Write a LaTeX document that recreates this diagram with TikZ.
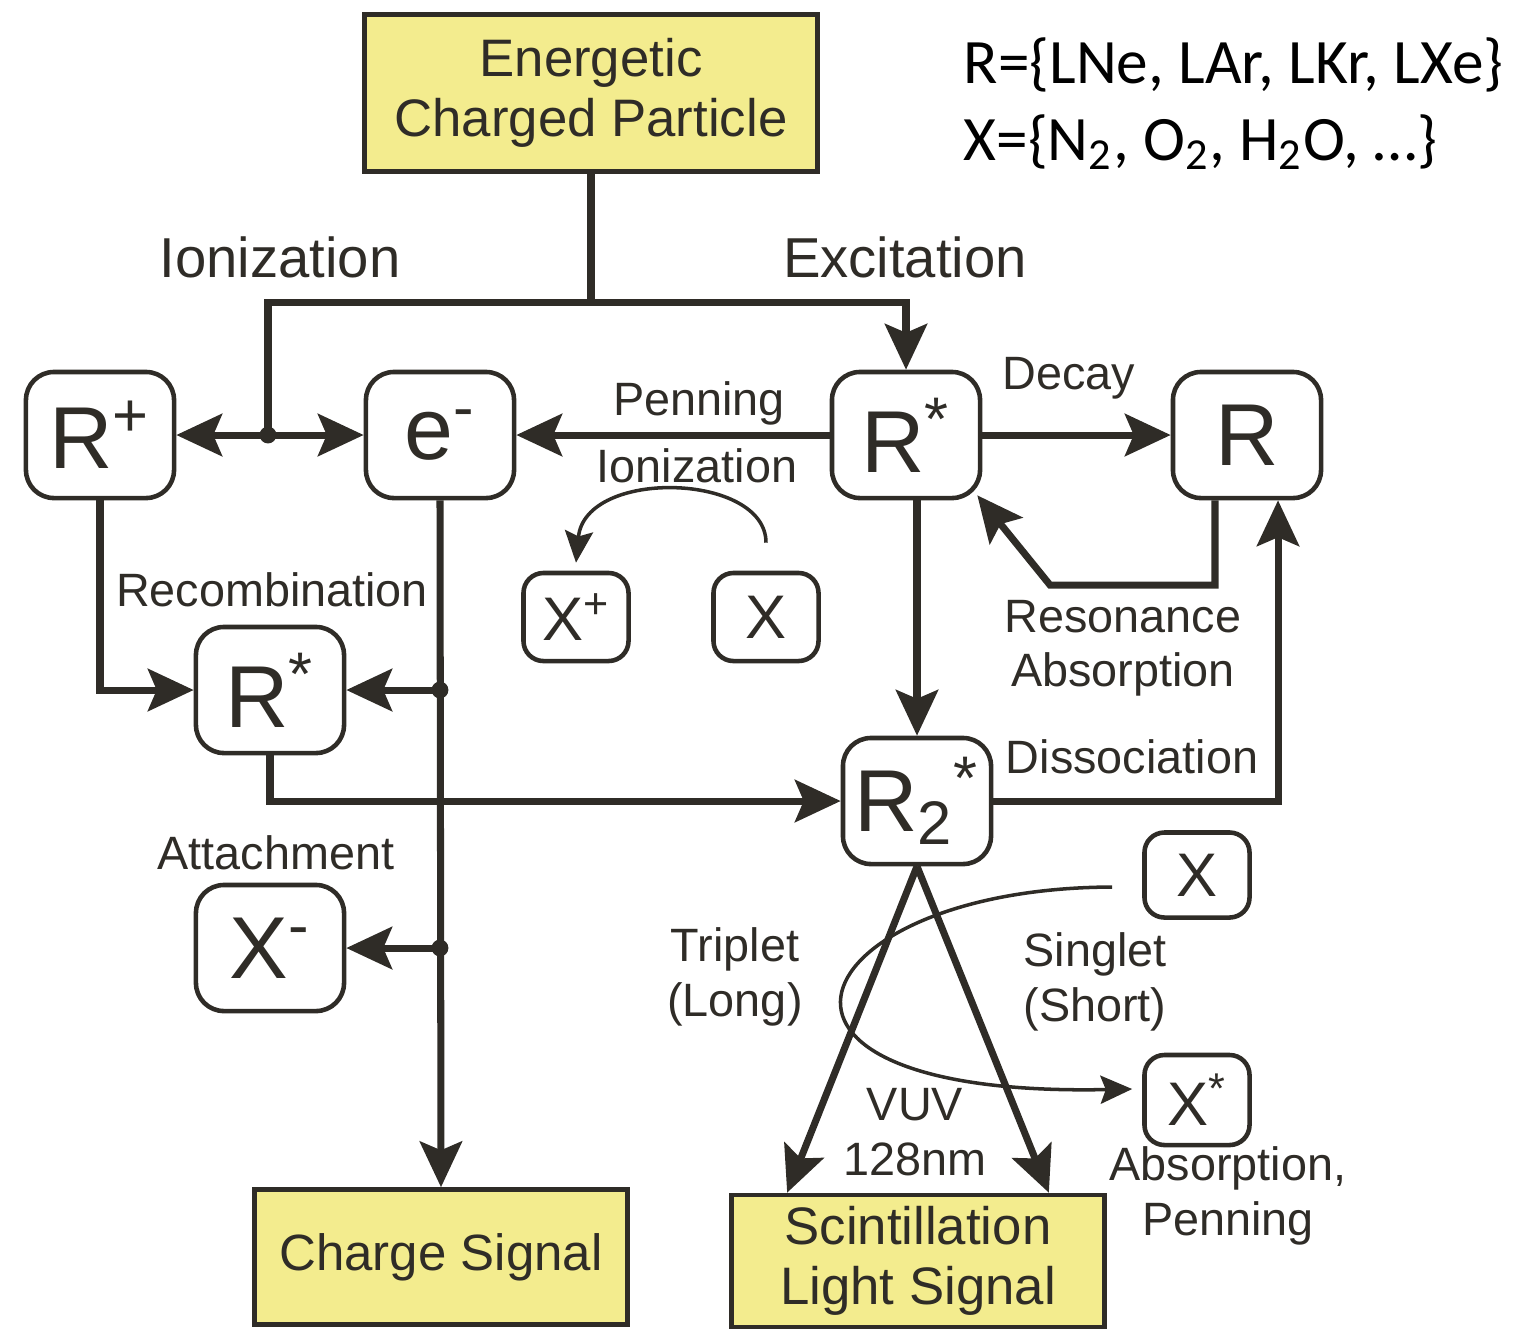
\documentclass[tikz,border=0pt]{standalone}
\usepackage{fontspec}
\setmainfont{Liberation Sans}
\newfontfamily\calibfont{Carlito}
\usetikzlibrary{arrows.meta}

\definecolor{inkD}{HTML}{2F2C27}
\definecolor{boxY}{HTML}{F3EC8E}

\begin{document}
\begin{tikzpicture}[x=0.01cm, y=-0.01cm,
    state/.style={draw=inkD, line width=1.3pt, rounded corners=0.28cm,
        minimum width=1.48cm, minimum height=1.26cm, inner sep=0pt,
        text=inkD, font=\fontsize{25}{30}\selectfont},
    small/.style={state, rounded corners=0.2cm, minimum width=1.05cm,
        minimum height=0.88cm, font=\fontsize{17.5}{21}\selectfont},
    signal/.style={draw=inkD, fill=boxY, line width=1.3pt, inner sep=0pt,
        align=center, text=inkD, font=\fontsize{15}{17}\selectfont},
    lbl/.style={text=inkD, align=center, inner sep=0pt,
        font=\fontsize{13.3}{15.5}\selectfont},
    lblbig/.style={text=inkD, inner sep=0pt, font=\fontsize{16}{19}\selectfont},
    legend/.style={anchor=base west, inner sep=0pt, text=black,
        font=\calibfont\fontsize{18}{21}\selectfont},
    link/.style={draw=inkD, line width=2pt},
    arr/.style={link, -{Stealth[length=13pt, width=12pt, inset=2.5pt]}},
    thinarr/.style={draw=inkD, line width=1pt,
        -{Stealth[length=9pt, width=8pt, inset=1.5pt]}},
]
\useasboundingbox (0,0) rectangle (1518,1329);

% Source and signals
\node[signal, minimum width=4.53cm, minimum height=1.57cm] (part)
    at (591,93) {Energetic\\Charged Particle};
\node[signal, minimum width=3.73cm, minimum height=1.35cm,
    font=\fontsize{14.5}{17}\selectfont] (charge) at (441,1257) {Charge Signal};
\node[signal, minimum width=3.73cm, minimum height=1.32cm] (scint)
    at (918,1261) {Scintillation\\Light Signal};

% States
\node[state] (rplus) at (100,435) {R\textsuperscript{+}};
\node[state] (elec) at (440,435) {e\textsuperscript{-}};
\node[state] (rstar) at (906,435) {R\textsuperscript{*}};
\node[state] (rgs) at (1247,435) {R};
\node[state] (rstarb) at (270,690) {R\textsuperscript{*}};
\node[state] (rdim) at (917,801) {R\textsubscript{2}\textsuperscript{*}};
\node[state] (xminus) at (270,948) {X\textsuperscript{-}};
\node[small] (xplus) at (576,617) {X\textsuperscript{+}};
\node[small] (xmol) at (766,617) {X};
\node[small, minimum height=0.85cm] (xq) at (1197,875) {X};
\node[small, minimum height=0.9cm] (xstar) at (1197,1100) {X\textsuperscript{*}};

% Legend
\node[legend] (rset) at (963,83) {R=\{LNe, LAr, LKr, LXe\}};
\node[legend] (xset) at (963,160)
    {X=\{N\textsubscript{2}, O\textsubscript{2}, H\textsubscript{2}O, …\}};

% Ionization / excitation split
\coordinate (split) at (591,302);
\coordinate (ionj) at (268,435);
\draw[link] (part.south) -- (split);
\draw[link] (split) -| (ionj);
\draw[arr] (split) -| (rstar.north);
\draw[arr] (ionj) -- (rplus.east);
\draw[arr] (ionj) -- (elec.west);
\fill[inkD] (ionj) circle (2.4pt);
\node[lblbig] (ionlbl) at (280,257) {Ionization};
\node[lblbig] (exclbl) at (905,257) {Excitation};

% Penning ionization
\draw[arr] (rstar) -- (elec);
\node[lbl] (penlbl) at (699,403) {Penning};
\node[lbl] (penlblb) at (697,466) {Ionization};
\coordinate (penA) at ([yshift=0.28cm]xmol.north);
\coordinate (penB) at ([yshift=0.08cm]xplus.north);
\draw[thinarr] (penA) .. controls +(0,-70) and +(9,-95) .. (penB);

% Decay and resonance absorption
\draw[arr] (rstar) -- (rgs);
\node[lbl] (declbl) at (1069,378) {Decay};
\coordinate (resbend) at (1050,585);
\draw[arr] ([xshift=-0.32cm]rgs.south) |- (resbend)
    -- ([shift={(-0.05cm,0.05cm)}]rstar.south east);
\node[lbl] (reslbl) at (1123,648) {Resonance\\Absorption};

% Self-trapping
\draw[arr] (rdim.north |- rstar.south) -- (rdim.north);

% Recombination
\draw[arr] (rplus.south) |- (rstarb.west);
\node[lbl] (reclbl) at (272,590) {Recombination};
\coordinate (recj) at (elec.south |- rstarb.east);
\coordinate (attj) at (elec.south |- xminus.east);
\draw[arr] (elec.south) -- (charge.north);
\draw[arr] (recj) -- (rstarb.east);
\draw[arr] (attj) -- (xminus.east);
\fill[inkD] (recj) circle (2.4pt);
\fill[inkD] (attj) circle (2.4pt);
\node[lbl] (attlbl) at (276,853) {Attachment};
\draw[arr] (rstarb.south) |- (rdim.west);

% Dissociation
\draw[arr] (rdim.east) -| ([xshift=0.31cm]rgs.south);
\node[lbl] (dislbl) at (1132,757) {Dissociation};

% Light emission
\draw[arr] (rdim.south) -- ([xshift=0.58cm]scint.north west);
\draw[arr] (rdim.south) -- ([xshift=-0.58cm]scint.north east);
\node[lbl] (trilbl) at (735,977) {Triplet\\(Long)};
\node[lbl] (sinlbl) at (1095,982) {Singlet\\(Short)};
\node[lbl] (vuvlbl) at (915,1132) {VUV\\128nm};

% Absorption by impurities
\coordinate (absA) at ([xshift=-0.3cm,yshift=-0.12cm]xq.west);
\coordinate (absB) at ([xshift=-0.1cm,yshift=0.11cm]xstar.west);
\draw[thinarr] (absA) .. controls (800,888) and (705,1098) .. (absB);
\node[lbl] (abslbl) at (1228,1196) {Absorption,\\Penning};

\end{tikzpicture}
\end{document}
